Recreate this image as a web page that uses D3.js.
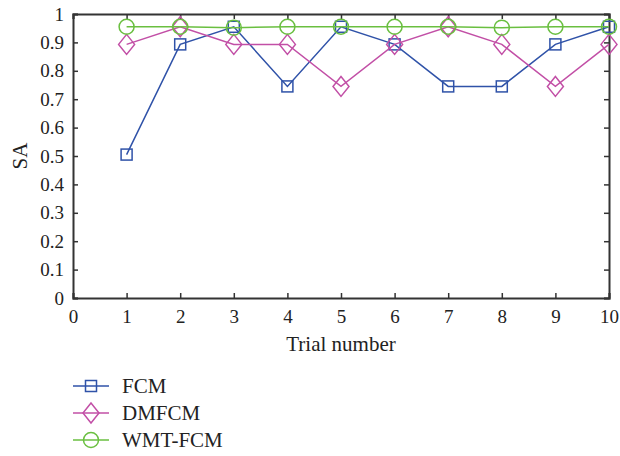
<!DOCTYPE html>
<html>
<head>
<meta charset="utf-8">
<script src="https://cdn.jsdelivr.net/npm/d3@7"></script>
<style>
  body { margin: 0; background: #fff; }
  text { font-family: "Liberation Serif", "DejaVu Serif", serif; fill: #222; }
</style>
</head>
<body>
<script>
let trials = [1, 2, 3, 4, 5, 6, 7, 8, 9, 10];
let fcm = [0.505, 0.893, 0.955, 0.745, 0.955, 0.893, 0.745, 0.745, 0.893, 0.955];
let dmfcm = [0.893, 0.955, 0.893, 0.893, 0.745, 0.893, 0.955, 0.893, 0.745, 0.893];
let wmtfcm = [0.955, 0.955, 0.952, 0.955, 0.955, 0.955, 0.955, 0.952, 0.955, 0.955];
let seriesNames = ['FCM', 'DMFCM', 'WMT-FCM'];
let xTicks = [0, 1, 2, 3, 4, 5, 6, 7, 8, 9, 10];
let yTicks = [0, 0.1, 0.2, 0.3, 0.4, 0.5, 0.6, 0.7, 0.8, 0.9, 1];

let svgWidth = 620, svgHeight = 456;
let plotLeft = 73, plotRight = 609, plotTop = 14, plotBottom = 298;

let colors = ['#2f52a8', '#c24fa6', '#6abf40'];
let shapes = ['square', 'diamond', 'circle'];
let allSeries = [fcm, dmfcm, wmtfcm];

let svg = d3.select('body').append('svg')
    .attr('width', svgWidth).attr('height', svgHeight)

let xScale = d3.scaleLinear().domain([0, 10]).range([plotLeft, plotRight])
let yScale = d3.scaleLinear().domain([0, 1]).range([plotBottom, plotTop])

let axisColor = '#333'

// bottom axis with labels
let xAxis = svg.append('g').attr('transform', 'translate(0,' + plotBottom + ')')
    .call(d3.axisBottom(xScale).tickValues(xTicks).tickSize(-5).tickPadding(12).tickFormat(d3.format('d')))
xAxis.selectAll('text').attr('font-size', 19)

// left axis with labels
let yAxis = svg.append('g').attr('transform', 'translate(' + plotLeft + ',0)')
    .call(d3.axisLeft(yScale).tickValues(yTicks).tickSize(-5).tickPadding(9).tickFormat(d => d === 0 || d === 1 ? d3.format('d')(d) : d3.format('.1f')(d)))
yAxis.selectAll('text').attr('font-size', 19)

// top and right axes: ticks only
svg.append('g').attr('transform', 'translate(0,' + plotTop + ')')
    .call(d3.axisTop(xScale).tickValues(xTicks).tickSize(-5).tickFormat(''))
svg.append('g').attr('transform', 'translate(' + plotRight + ',0)')
    .call(d3.axisRight(yScale).tickValues(yTicks).tickSize(-5).tickFormat(''))

svg.selectAll('.domain').attr('stroke', axisColor).attr('stroke-width', 2)
svg.selectAll('.tick line').attr('stroke', axisColor).attr('stroke-width', 1.5)
svg.selectAll('.tick text').attr('fill', '#222')

function drawMarker(g, shape, color) {
    if (shape === 'square') {
        g.append('rect').attr('x', -5.5).attr('y', -5.5).attr('width', 11).attr('height', 11)
            .attr('fill', 'none').attr('stroke', color).attr('stroke-width', 1.5)
    } else if (shape === 'diamond') {
        g.append('path').attr('d', 'M0,-10L8,0L0,10L-8,0Z')
            .attr('fill', 'none').attr('stroke', color).attr('stroke-width', 1.5)
    } else {
        g.append('circle').attr('r', 7.5)
            .attr('fill', 'none').attr('stroke', color).attr('stroke-width', 1.5)
    }
}

let line = d3.line().x((d, i) => xScale(trials[i])).y(d => yScale(d))

allSeries.forEach((vals, s) => {
    svg.append('path').datum(vals).attr('d', line)
        .attr('fill', 'none').attr('stroke', colors[s]).attr('stroke-width', 1.5)
    vals.forEach((v, i) => {
        let g = svg.append('g').attr('transform', 'translate(' + xScale(trials[i]) + ',' + yScale(v) + ')')
        drawMarker(g, shapes[s], colors[s])
    })
})

// axis titles
svg.append('text').attr('x', (plotLeft + plotRight) / 2).attr('y', 351)
    .attr('text-anchor', 'middle').attr('font-size', 21).text('Trial number')
svg.append('text').attr('transform', 'translate(27,' + ((plotTop + plotBottom) / 2) + ') rotate(-90)')
    .attr('text-anchor', 'middle').attr('font-size', 21).text('SA')

// legend
let legend = svg.append('g')
seriesNames.forEach((name, s) => {
    let y = 386 + s * 27
    legend.append('line').attr('x1', 73).attr('x2', 109).attr('y1', y).attr('y2', y)
        .attr('stroke', colors[s]).attr('stroke-width', 1.5)
    let g = legend.append('g').attr('transform', 'translate(91,' + y + ')')
    drawMarker(g, shapes[s], colors[s])
    legend.append('text').attr('x', 122).attr('y', y + 7).attr('font-size', 21).text(name)
})
</script>
</body>
</html>
